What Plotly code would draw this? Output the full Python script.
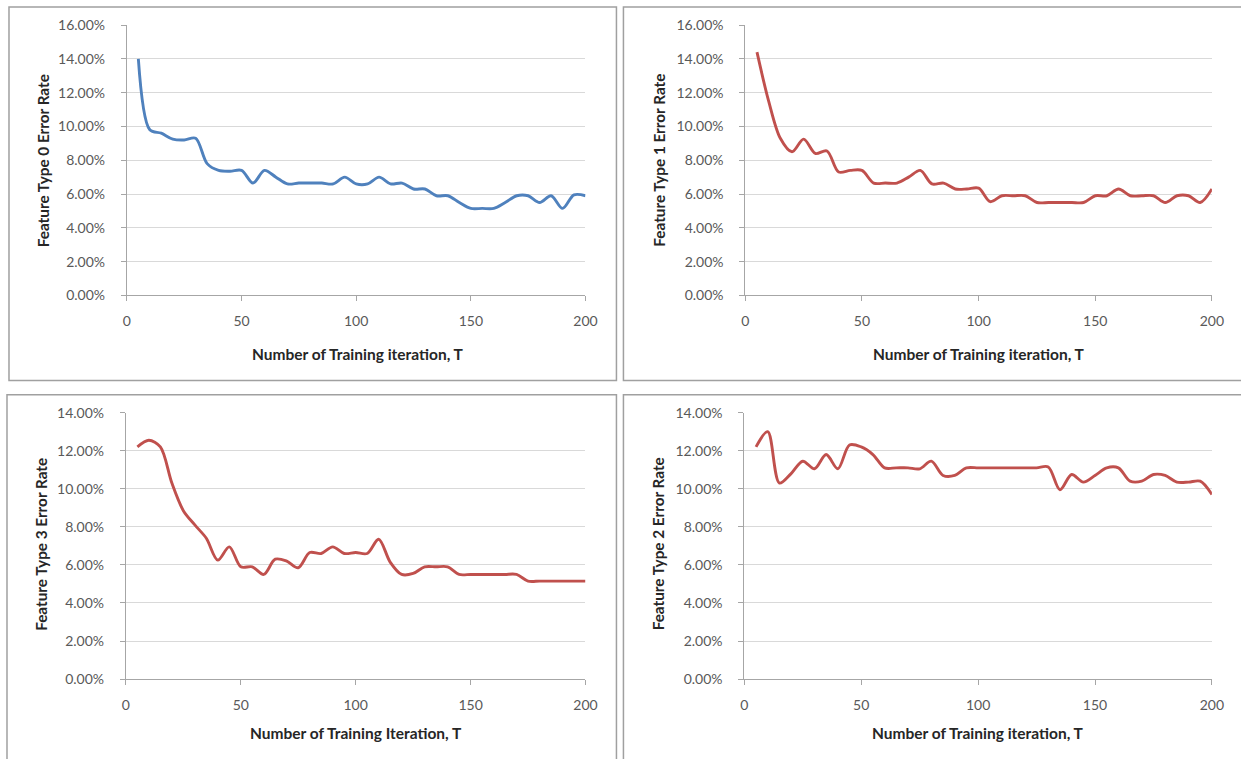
import plotly.graph_objects as go

W, H = 1241, 759

iterations = list(range(5, 201, 5))

type0_error = [14.0, 9.8, 9.6, 9.25, 9.2, 9.3, 7.8, 7.4, 7.35, 7.4,
               6.65, 7.4, 7.0, 6.6, 6.65, 6.65, 6.65, 6.6, 7.0, 6.6,
               6.6, 7.0, 6.6, 6.65, 6.3, 6.3, 5.9, 5.9, 5.5, 5.15,
               5.15, 5.15, 5.5, 5.9, 5.9, 5.5, 5.9, 5.15, 5.95, 5.9]

type1_error = [14.4, 11.5, 9.3, 8.5, 9.25, 8.4, 8.55, 7.3, 7.4, 7.4,
               6.65, 6.65, 6.65, 7.0, 7.4, 6.6, 6.65, 6.3, 6.3, 6.35,
               5.55, 5.9, 5.9, 5.9, 5.5, 5.5, 5.5, 5.5, 5.5, 5.9,
               5.9, 6.3, 5.9, 5.9, 5.9, 5.5, 5.9, 5.9, 5.5, 6.3]

type3_error = [12.2, 12.55, 12.2, 10.3, 8.85, 8.1, 7.4, 6.25, 6.95, 5.9,
               5.9, 5.5, 6.3, 6.2, 5.85, 6.65, 6.6, 6.95, 6.6, 6.65,
               6.6, 7.35, 6.15, 5.5, 5.55, 5.9, 5.9, 5.9, 5.5, 5.5,
               5.5, 5.5, 5.5, 5.5, 5.15, 5.15, 5.15, 5.15, 5.15, 5.15]

type2_error = [12.2, 13.0, 10.3, 10.8, 11.45, 11.05, 11.8, 11.05, 12.3, 12.2,
               11.8, 11.1, 11.1, 11.1, 11.05, 11.45, 10.7, 10.7, 11.1, 11.1,
               11.1, 11.1, 11.1, 11.1, 11.1, 11.15, 9.95, 10.75, 10.35, 10.7,
               11.1, 11.1, 10.4, 10.4, 10.75, 10.7, 10.35, 10.35, 10.4, 9.7]

x_ticks = [0, 50, 100, 150, 200]

y_titles = ["Feature Type 0 Error Rate", "Feature Type 1 Error Rate",
            "Feature Type 3 Error Rate", "Feature Type 2 Error Rate"]
x_titles = ["Number of Training iteration, T", "Number of Training iteration, T",
            "Number of Training Iteration, T", "Number of Training iteration, T"]
y_max = [16, 16, 14, 14]
series = [type0_error, type1_error, type3_error, type2_error]
colors = ["#4f81bd", "#c0504d", "#c0504d", "#c0504d"]

# target pixel geometry of the four plot areas: (x_left, x_right, y_top, y_bottom)
areas = [(126, 585, 24, 294), (745, 1212, 24, 294),
         (125, 585, 411, 677), (744, 1212, 411, 677)]
borders = [(8, 616, 6, 379), (623, 1260, 6, 379),
           (6, 616, 393, 780), (623, 1260, 393, 780)]
ytitle_pos = [(42, 159), (659, 159), (40, 542), (657, 542)]
xtitle_pos = [(357, 352), (979, 352), (355, 731), (978, 731)]

# compensation for the capture framing (measured: out = s*in + o)
SX, OX = 0.988, 3.0
SY, OY = 0.976, 8.0

FONT = "Lato"
TICK_COLOR = "#595959"
TITLE_COLOR = "#262626"

def px(x):
    return ((x - OX) / SX) / W

def py(y):
    return 1 - ((y - OY) / SY) / H

fig = go.Figure()
layout = dict(
    autosize=True,
    margin=dict(l=0, r=0, t=0, b=0, pad=0),
    paper_bgcolor="white", plot_bgcolor="white",
    showlegend=False,
    font=dict(family=FONT, size=12, color=TICK_COLOR),
    shapes=[], annotations=[],
)

for i in range(4):
    n = "" if i == 0 else str(i + 1)
    xl, xr, yt, yb = areas[i]
    fig.add_trace(go.Scatter(
        x=iterations, y=series[i], mode="lines",
        line=dict(color=colors[i], width=2.9, shape="spline", smoothing=0.9),
        xaxis="x" + n, yaxis="y" + n, hoverinfo="x+y",
    ))
    layout["xaxis" + n] = dict(
        domain=[px(xl), px(xr)], anchor="y" + n,
        range=[0, 200], tickvals=x_ticks, showgrid=False, zeroline=False,
        showline=True, linecolor="#a6a6a6", linewidth=1,
        ticks="outside", ticklen=5, tickcolor="#a6a6a6",
        ticklabelstandoff=8,
        tickfont=dict(family=FONT, size=14, color=TICK_COLOR),
    )
    layout["yaxis" + n] = dict(
        domain=[py(yb), py(yt)], anchor="x" + n,
        range=[0, y_max[i]], dtick=2, tickformat=".2f", ticksuffix="%",
        showgrid=True, gridcolor="#d9d9d9", gridwidth=1, zeroline=False,
        showline=True, linecolor="#a6a6a6", linewidth=1,
        ticks="outside", ticklen=5, tickcolor="#a6a6a6",
        ticklabelstandoff=13,
        tickfont=dict(family=FONT, size=14, color=TICK_COLOR),
    )
    bx0, bx1, by0, by1 = borders[i]
    layout["shapes"].append(dict(
        type="rect", xref="paper", yref="paper",
        x0=px(bx0), x1=px(bx1), y0=py(by1), y1=py(by0),
        line=dict(color="#a0a0a0", width=1.5), layer="below",
    ))
    tx, ty = ytitle_pos[i]
    layout["annotations"].append(dict(
        text="<b>" + y_titles[i] + "</b>", xref="paper", yref="paper",
        x=px(tx), y=py(ty), xanchor="center", yanchor="middle",
        textangle=-90, showarrow=False,
        font=dict(family=FONT, size=15.3, color=TITLE_COLOR),
    ))
    tx, ty = xtitle_pos[i]
    layout["annotations"].append(dict(
        text="<b>" + x_titles[i] + "</b>", xref="paper", yref="paper",
        x=px(tx), y=py(ty), xanchor="center", yanchor="middle",
        showarrow=False,
        font=dict(family=FONT, size=15.5, color=TITLE_COLOR),
    ))

fig.update_layout(**layout)

post = (
    "var st=document.createElement('style');"
    "st.textContent='html,body{margin:0!important;padding:0!important;overflow:hidden!important;"
    "width:100vw;height:100vh;} body>div{margin:0;padding:0;}';"
    "document.head.appendChild(st);"
    "var gd=document.getElementById('{plot_id}');"
    "gd.style.width='100vw';gd.style.height='100vh';"
    "Plotly.Plots.resize(gd);"
)
fig.write_html(
    "out.html",
    default_width="100vw",
    default_height="100vh",
    config={"responsive": True, "displayModeBar": False},
    post_script=post,
)
